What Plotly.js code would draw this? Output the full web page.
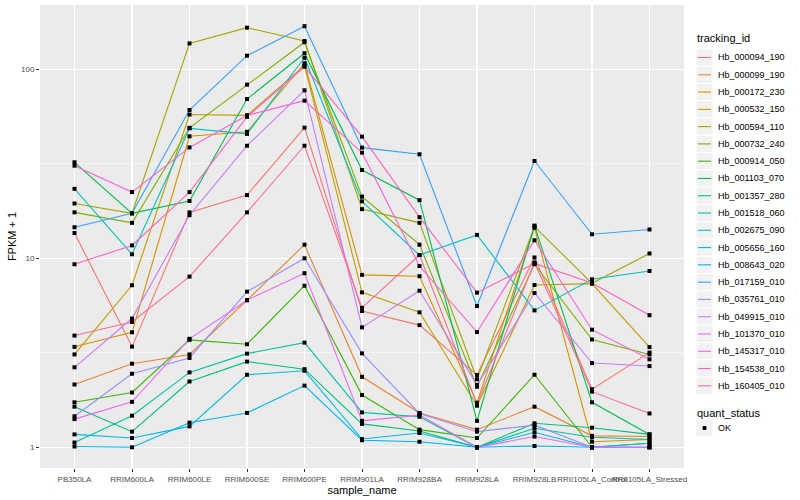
<!DOCTYPE html>
<html>
<head>
<meta charset="utf-8">
<script src="https://cdn.plot.ly/plotly-3.0.1.min.js"></script>
<style>html,body{margin:0;padding:0;background:#fff}#chart{width:800px;height:500px}</style>
</head>
<body>
<div id="chart"></div>
<script>
const samples = ["PB350LA","RRIM600LA","RRIM600LE","RRIM600SE","RRIM600PE","RRIM901LA","RRIM928BA","RRIM928LA","RRIM928LB","RRII105LA_Control","RRII105LA_Stressed"];

const Hb_000094_190 = [13.6, 3.41, 17.5, 21.6, 49.1, 5.26, 4.43, 2.41, 10.1, 2.03, 3.17];
const Hb_000099_190 = [2.15, 2.77, 3.1, 6.0, 11.8, 2.36, 1.52, 1.24, 1.64, 1.15, 1.14];
const Hb_000172_230 = [3.4, 4.06, 44.2, 46.7, 107.6, 8.17, 8.04, 1.72, 14.5, 1.07, 1.1];
const Hb_000532_150 = [3.1, 7.2, 57.6, 57.0, 104.5, 6.6, 5.18, 1.66, 7.22, 7.34, 3.39];
const Hb_000594_110 = [19.5, 17.3, 137, 166, 141, 18.2, 15.4, 2.29, 14.7, 7.37, 10.6];
const Hb_000732_240 = [17.5, 15.4, 49.0, 82.9, 139, 21.2, 11.8, 2.09, 9.3, 3.72, 3.1];
const Hb_000914_050 = [1.73, 1.95, 3.7, 3.51, 7.16, 1.89, 1.24, 1.12, 2.42, 1.0, 1.05];
const Hb_001103_070 = [32.2, 17.3, 20.1, 69.6, 121.6, 29.3, 20.3, 1.38, 14.9, 1.73, 1.17];
const Hb_001357_280 = [1.64, 1.21, 2.23, 2.84, 2.59, 1.33, 1.22, 1.0, 1.34, 1.27, 1.17];
const Hb_001518_060 = [1.06, 1.47, 2.49, 3.13, 3.58, 1.53, 1.45, 1.0, 1.26, 1.13, 1.1];
const Hb_002675_090 = [23.3, 10.5, 48.7, 45.5, 115, 20.0, 10.4, 13.3, 5.3, 7.74, 8.57];
const Hb_005656_160 = [1.17, 1.12, 1.29, 2.42, 2.54, 1.106, 1.19, 1.0, 1.2, 1.0, 1.05];
const Hb_008643_020 = [1.01, 1.0, 1.35, 1.52, 2.12, 1.09, 1.07, 1.0, 1.016, 1.0, 1.0];
const Hb_017159_010 = [14.6, 17.3, 60.9, 118, 169, 38.5, 35.5, 5.59, 32.7, 13.4, 14.2];
const Hb_035761_010 = [1.46, 2.45, 2.97, 6.66, 10.0, 3.14, 1.51, 1.21, 1.31, 1.0, 1.0];
const Hb_049915_010 = [2.65, 4.8, 16.9, 39.4, 77.4, 4.31, 6.74, 2.14, 6.55, 2.79, 2.69];
const Hb_101370_010 = [1.41, 1.74, 3.75, 6.0, 8.34, 1.38, 1.48, 1.0, 1.14, 1.0, 1.0];
const Hb_145317_010 = [30.9, 22.4, 38.6, 57.0, 68.2, 36.2, 9.1, 4.07, 12.45, 4.19, 2.92];
const Hb_154538_010 = [9.3, 11.7, 22.4, 56.0, 103, 44.0, 16.5, 6.58, 9.4, 7.4, 5.0];
const Hb_160405_010 = [3.9, 4.6, 8.0, 17.5, 39.4, 5.47, 10.4, 1.69, 9.5, 1.97, 1.51];

const trackingIds = ["Hb_000094_190","Hb_000099_190","Hb_000172_230","Hb_000532_150","Hb_000594_110","Hb_000732_240","Hb_000914_050","Hb_001103_070","Hb_001357_280","Hb_001518_060","Hb_002675_090","Hb_005656_160","Hb_008643_020","Hb_017159_010","Hb_035761_010","Hb_049915_010","Hb_101370_010","Hb_145317_010","Hb_154538_010","Hb_160405_010"];
const seriesValues = [Hb_000094_190,Hb_000099_190,Hb_000172_230,Hb_000532_150,Hb_000594_110,Hb_000732_240,Hb_000914_050,Hb_001103_070,Hb_001357_280,Hb_001518_060,Hb_002675_090,Hb_005656_160,Hb_008643_020,Hb_017159_010,Hb_035761_010,Hb_049915_010,Hb_101370_010,Hb_145317_010,Hb_154538_010,Hb_160405_010];
const quantStatus = ["OK"];
const colors = ["#F8766D","#EA8331","#D89000","#C09B00","#A3A500","#7CAE00","#39B600","#00BB4E","#00BF7D","#00C1A3","#00BFC4","#00BAE0","#00B0F6","#35A2FF","#9590FF","#C77CFF","#E76BF3","#FA62DB","#FF62BC","#FF6C91"];

const traces = trackingIds.map((id, i) => ({
  type: "scatter", mode: "lines", name: id, x: samples, y: seriesValues[i],
  line: {color: colors[i], width: 1.1}, showlegend: false
}));
let px = [], py = [];
seriesValues.forEach(v => { px = px.concat(samples); py = py.concat(v); });
traces.push({type: "scatter", mode: "markers", name: quantStatus[0], x: px, y: py,
  marker: {symbol: "square", size: 4, color: "#000"}, showlegend: false});

// manual ggplot-style legend (pixel layout converted to paper coords)
const M = {l: 40, r: 116, t: 5, b: 32};
const PW = 800 - M.l - M.r, PH = 500 - M.t - M.b;
const fx = p => (p - M.l) / PW;
const fy = p => (500 - M.b - p) / PH;
const ff = "Liberation Sans, Arial, sans-serif";
const shapes = [], annotations = [];
annotations.push({xref: "paper", yref: "paper", x: fx(695), y: fy(38), xanchor: "left", yanchor: "middle",
  text: "tracking_id", showarrow: false, font: {family: ff, size: 11, color: "#000"}});
const step = 17.28, first = 57.5;
trackingIds.forEach((id, i) => {
  const cy = first + i * step;
  shapes.push({type: "rect", xref: "paper", yref: "paper", x0: fx(696), x1: fx(713), y0: fy(cy - step/2), y1: fy(cy + step/2),
    fillcolor: "#F2F2F2", line: {color: "#fff", width: 1}, layer: "above"});
  shapes.push({type: "line", xref: "paper", yref: "paper", x0: fx(698), x1: fx(711), y0: fy(cy), y1: fy(cy),
    line: {color: colors[i], width: 1.1}, layer: "above"});
  annotations.push({xref: "paper", yref: "paper", x: fx(716), y: fy(cy), xanchor: "left", yanchor: "middle",
    text: id, showarrow: false, font: {family: ff, size: 9, color: "#000"}});
});
annotations.push({xref: "paper", yref: "paper", x: fx(695), y: fy(413), xanchor: "left", yanchor: "middle",
  text: "quant_status", showarrow: false, font: {family: ff, size: 11, color: "#000"}});
shapes.push({type: "rect", xref: "paper", yref: "paper", x0: fx(696), x1: fx(713), y0: fy(428 - step/2), y1: fy(428 + step/2),
  fillcolor: "#F2F2F2", line: {color: "#fff", width: 1}, layer: "above"});
shapes.push({type: "rect", xref: "paper", yref: "paper", x0: fx(702.6), x1: fx(706.4), y0: fy(426.1), y1: fy(429.9),
  fillcolor: "#000", line: {width: 0}, layer: "above"});
annotations.push({xref: "paper", yref: "paper", x: fx(716), y: fy(428), xanchor: "left", yanchor: "middle",
  text: quantStatus[0], showarrow: false, font: {family: ff, size: 9, color: "#000"}});

const layout = {
  width: 800, height: 500,
  margin: M,
  paper_bgcolor: "#fff", plot_bgcolor: "#EBEBEB",
  font: {family: ff, color: "#000"},
  showlegend: false,
  xaxis: {
    type: "category", range: [-0.6, 10.6], showgrid: true, gridcolor: "#fff", gridwidth: 1.1,
    zeroline: false, showline: false, ticks: "outside", ticklen: 3, tickcolor: "#333", tickangle: 0,
    tickfont: {family: ff, size: 8, color: "#4D4D4D"},
    title: {text: "sample_name", font: {family: ff, size: 11, color: "#000"}, standoff: 1},
    automargin: false
  },
  yaxis: {
    type: "log", range: [-0.1095, 2.340], tickmode: "array", tickvals: [1, 10, 100], ticktext: ["1", "10", "100"],
    showgrid: true, gridcolor: "#fff", gridwidth: 1.1, zeroline: false, showline: false,
    ticks: "outside", ticklen: 3, tickcolor: "#333",
    tickfont: {family: ff, size: 8, color: "#4D4D4D"},
    minor: {tickmode: "array", tickvals: [3.1623, 31.623], showgrid: true, gridcolor: "#fff", gridwidth: 0.5, ticks: ""},
    title: {text: "FPKM + 1", font: {family: ff, size: 11, color: "#000"}, standoff: 2},
    automargin: false
  },
  shapes: shapes,
  annotations: annotations
};
Plotly.newPlot("chart", traces, layout, {displayModeBar: false, staticPlot: true});
</script>
</body>
</html>
